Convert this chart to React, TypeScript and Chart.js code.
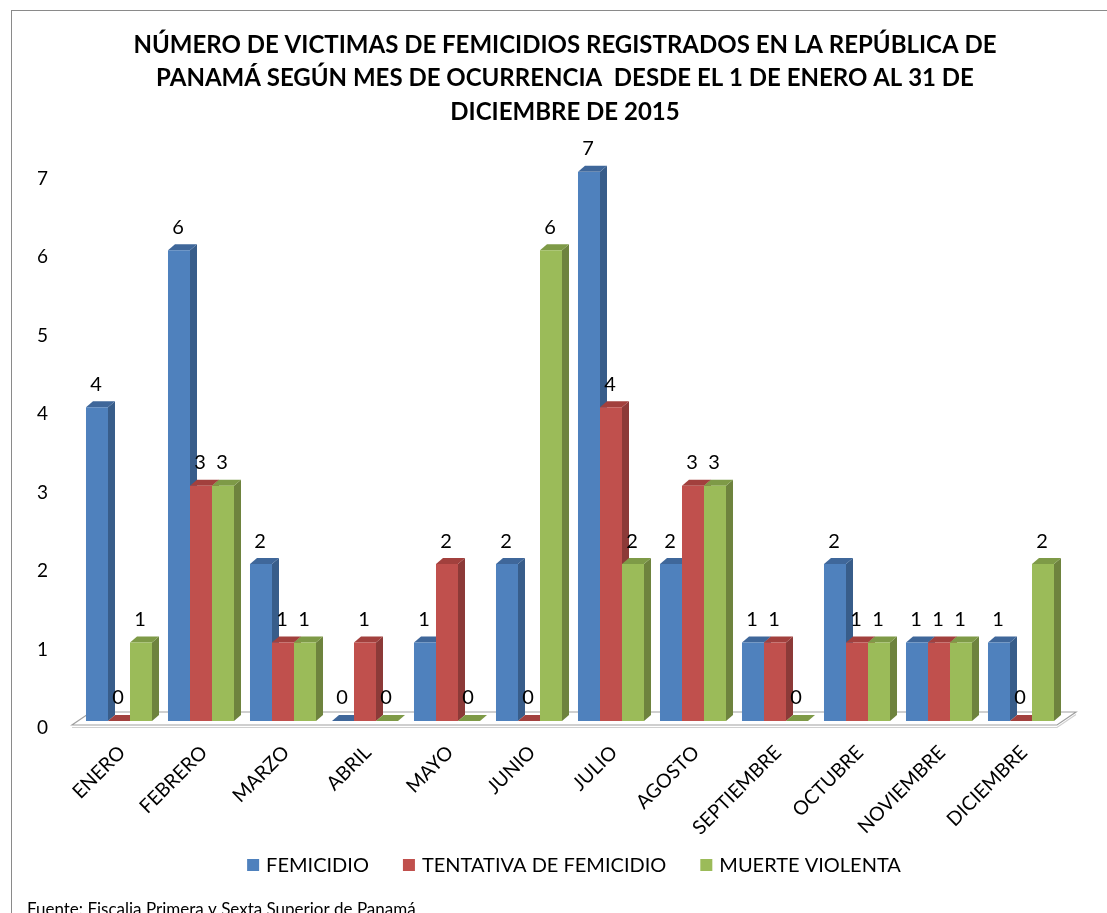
import React, { useEffect, useRef } from 'react';
import { Chart, registerables } from 'chart.js';

Chart.register(...registerables);

const categories = ['ENERO', 'FEBRERO', 'MARZO', 'ABRIL', 'MAYO', 'JUNIO', 'JULIO', 'AGOSTO', 'SEPTIEMBRE', 'OCTUBRE', 'NOVIEMBRE', 'DICIEMBRE'];
const femicidio = [4, 6, 2, 0, 1, 2, 7, 2, 1, 2, 1, 1];
const tentativa = [0, 3, 1, 1, 2, 0, 4, 3, 1, 1, 1, 0];
const muerteViolenta = [1, 3, 1, 0, 0, 6, 2, 3, 0, 1, 1, 2];
const seriesNames = ['FEMICIDIO', 'TENTATIVA DE FEMICIDIO', 'MUERTE VIOLENTA'];
const yTickMax = 7;
const titleLines = [
  'NÚMERO DE VICTIMAS DE FEMICIDIOS REGISTRADOS EN LA REPÚBLICA DE',
  'PANAMÁ SEGÚN MES DE OCURRENCIA  DESDE EL 1 DE ENERO AL 31 DE',
  'DICIEMBRE DE 2015',
];
const sourceNote = 'Fuente: Fiscalia Primera y Sexta Superior de Panamá';

const FRONT = ['#4F81BD', '#C0504D', '#9BBB59'];
const SIDE = ['#385D8A', '#8C3A38', '#6E833E'];
const TOP = ['#3F679A', '#A2403D', '#7E9A47'];
const FONT = 'Lato, "Open Sans", sans-serif';
const DX = 7;
const DY = -6;

const threeDPlugin = {
  id: 'threeD',
  beforeDraw(chart: any) {
    const { ctx, width, height } = chart;
    ctx.save();
    ctx.fillStyle = '#ffffff';
    ctx.fillRect(0, 0, width, height);
    ctx.strokeStyle = '#8a8a8a';
    ctx.lineWidth = 1;
    ctx.strokeRect(11.5, 10.5, width + 50, height + 50);
    ctx.fillStyle = '#000';
    ctx.font = `17px ${FONT}`;
    ctx.textBaseline = 'alphabetic';
    ctx.textAlign = 'left';
    ctx.fillText(sourceNote, 27, 915);
    ctx.restore();
  },
  beforeDatasetsDraw(chart: any) {
    const { ctx, chartArea } = chart;
    ctx.save();
    // floor
    const fl = chartArea.left - 6;
    const fr = chartArea.right - 5;
    const fy = chartArea.bottom + 4;
    const bx = 19;
    const by = -13;
    ctx.fillStyle = '#ffffff';
    ctx.strokeStyle = '#a0a0a0';
    ctx.lineWidth = 1.2;
    ctx.beginPath();
    ctx.moveTo(fl, fy);
    ctx.lineTo(fr, fy);
    ctx.lineTo(fr + bx, fy + by);
    ctx.lineTo(fl + bx, fy + by);
    ctx.closePath();
    ctx.fill();
    ctx.stroke();
    ctx.strokeStyle = '#d0d0d0';
    ctx.beginPath();
    ctx.moveTo(fl, fy + 2.5);
    ctx.lineTo(fr, fy + 2.5);
    ctx.lineTo(fr + bx, fy + by + 2.5);
    ctx.stroke();

    const bars: any[] = [];
    chart.data.datasets.forEach((_: any, di: number) => {
      const meta = chart.getDatasetMeta(di);
      meta.data.forEach((el: any) => {
        const p = el.getProps(['x', 'y', 'base', 'width'], true);
        bars.push({ di, ...p });
      });
    });
    // side faces
    bars.forEach((b) => {
      const r = b.x + b.width / 2;
      ctx.fillStyle = SIDE[b.di];
      ctx.beginPath();
      ctx.moveTo(r, b.y);
      ctx.lineTo(r + DX, b.y + DY);
      ctx.lineTo(r + DX, b.base + DY);
      ctx.lineTo(r, b.base);
      ctx.closePath();
      ctx.fill();
    });
    // top faces
    bars.forEach((b) => {
      const l = b.x - b.width / 2;
      const r = b.x + b.width / 2;
      ctx.fillStyle = TOP[b.di];
      ctx.beginPath();
      ctx.moveTo(l, b.y);
      ctx.lineTo(r, b.y);
      ctx.lineTo(r + DX, b.y + DY);
      ctx.lineTo(l + DX, b.y + DY);
      ctx.closePath();
      ctx.fill();
    });
    ctx.restore();
  },
  afterDatasetsDraw(chart: any) {
    const { ctx } = chart;
    ctx.save();
    ctx.fillStyle = '#000';
    ctx.font = `20px ${FONT}`;
    ctx.textAlign = 'center';
    ctx.textBaseline = 'middle';
    chart.data.datasets.forEach((ds: any, di: number) => {
      const meta = chart.getDatasetMeta(di);
      meta.data.forEach((el: any, i: number) => {
        const p = el.getProps(['x', 'y'], true);
        ctx.fillText(String(ds.data[i]), p.x - 1, p.y - 23);
      });
    });
    ctx.restore();
  },
  afterDraw(chart: any) {
    // legend
    const { ctx } = chart;
    ctx.save();
    ctx.font = `20px ${FONT}`;
    ctx.textBaseline = 'middle';
    ctx.textAlign = 'left';
    const box = 12;
    const gap = 7;
    const spacing = 34;
    const labels = chart.data.datasets.map((d: any) => d.label);
    const widths = labels.map((t: string) => box + gap + ctx.measureText(t).width);
    const total = widths.reduce((a: number, b: number) => a + b, 0) + spacing * (labels.length - 1);
    let x = 574 - total / 2;
    const cy = 865;
    labels.forEach((t: string, i: number) => {
      ctx.fillStyle = FRONT[i];
      ctx.fillRect(x, cy - box / 2, box, box);
      ctx.fillStyle = '#000';
      ctx.fillText(t, x + box + gap, cy + 1);
      x += widths[i] + spacing;
    });
    ctx.restore();
  },
};

export default function App() {
  const ref = useRef<HTMLCanvasElement | null>(null);
  useEffect(() => {
    if (!ref.current) return;
    const chart = new Chart(ref.current, {
      type: 'bar',
      data: {
        labels: categories,
        datasets: [femicidio, tentativa, muerteViolenta].map((d, i) => ({
          label: seriesNames[i],
          data: d,
          backgroundColor: FRONT[i],
          borderWidth: 0,
          categoryPercentage: 0.805,
          barPercentage: 1,
        })),
      },
      options: {
        animation: false,
        responsive: false,
        layout: { padding: { left: 68, right: 45, top: 14, bottom: 0 } },
        plugins: {
          title: {
            display: true,
            text: titleLines,
            color: '#000',
            font: { family: FONT, weight: 'bold', size: 24, lineHeight: 1.4 },
            padding: { top: 14, bottom: 43 },
          },
          legend: { display: false },
          tooltip: { enabled: false },
        },
        scales: {
          x: {
            grid: { display: false, drawTicks: false },
            border: { display: false },
            ticks: {
              minRotation: 45,
              maxRotation: 45,
              autoSkip: false,
              padding: 20,
              labelOffset: 3,
              color: '#000',
              font: { family: FONT, size: 19.5 },
            },
            afterFit: (s: any) => { s.height = 192; },
          },
          y: {
            min: 0,
            max: yTickMax,
            grid: { display: false, drawTicks: false },
            border: { display: false },
            ticks: {
              stepSize: 1,
              mirror: true,
              padding: -41,
              labelOffset: 7,
              color: '#000',
              font: { family: FONT, size: 19 },
            },
            afterFit: (s: any) => { s.width = 10; },
          },
        },
      },
      plugins: [threeDPlugin],
    });
    return () => chart.destroy();
  }, []);
  return (
    <div style={{ position: 'absolute', left: 0, top: 0 }}>
      <canvas ref={ref} width={1107} height={913} style={{ display: 'block', width: 1107, height: 913 }} />
    </div>
  );
}
